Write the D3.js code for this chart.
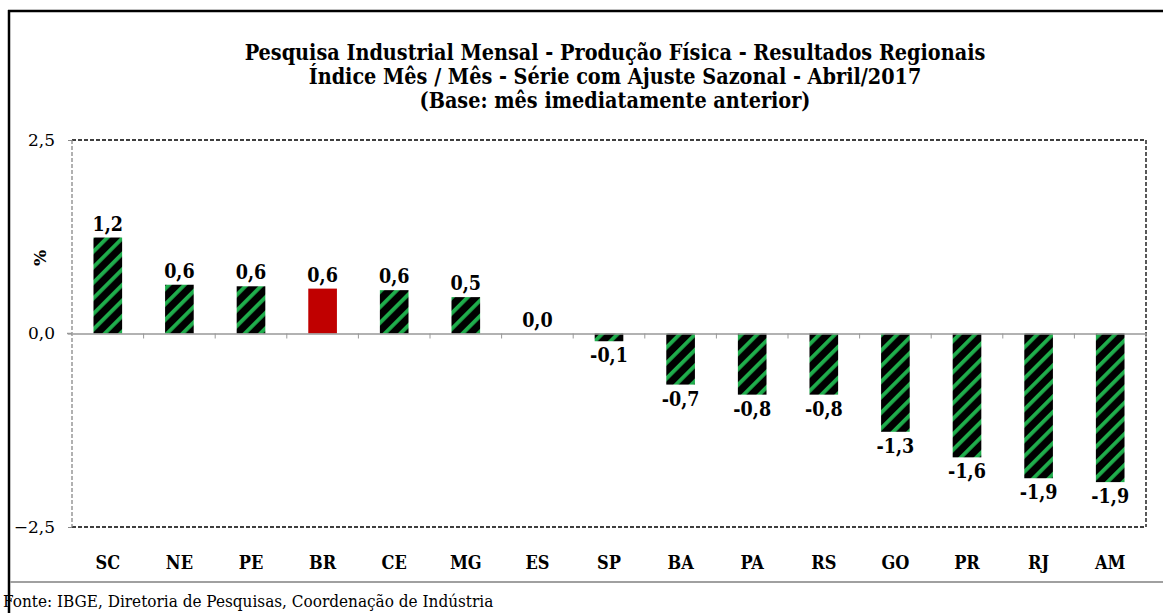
<!DOCTYPE html>
<html><head><meta charset="utf-8">
<script src="https://cdn.jsdelivr.net/npm/d3@7"></script>
<style>body{margin:0;background:#fff}svg{display:block}</style>
</head><body>
<svg id="c" width="1163" height="613"></svg>
<script>
const categories = ["SC","NE","PE","BR","CE","MG","ES","SP","BA","PA","RS","GO","PR","RJ","AM"];
const values = [1.24, 0.63, 0.61, 0.58, 0.56, 0.47, 0.0, -0.1, -0.66, -0.79, -0.79, -1.27, -1.6, -1.87, -1.92];
const labels = ["1,2","0,6","0,6","0,6","0,6","0,5","0,0","-0,1","-0,7","-0,8","-0,8","-1,3","-1,6","-1,9","-1,9"];
const yTicks = [-2.5, 0, 2.5];
const titleLines = ["Pesquisa Industrial Mensal - Produção Física - Resultados Regionais",
  "Índice Mês / Mês - Série com Ajuste Sazonal - Abril/2017",
  "(Base: mês imediatamente anterior)"];
const highlight = "BR";

const svg = d3.select("#c");
const F = "'DejaVu Serif', serif";
const FC = "'DejaVu Serif Condensed', 'DejaVu Serif', serif";
const L = 72, R = 1146, T = 140, B = 527;

const defs = svg.append("defs");
const P = 11;
const pat = defs.append("pattern").attr("id","hatch").attr("patternUnits","userSpaceOnUse")
  .attr("width",P).attr("height",P).attr("patternTransform","rotate(45)");
pat.append("rect").attr("width",P).attr("height",P).attr("fill","#000");
pat.append("rect").attr("x",0).attr("width",3.8).attr("height",P).attr("fill","#1fae4c");

// outer frame
svg.append("line").attr("x1",9).attr("x2",9).attr("y1",10).attr("y2",613).attr("stroke","#000").attr("stroke-width",2.5);
svg.append("line").attr("x1",8).attr("x2",1163).attr("y1",11).attr("y2",11).attr("stroke","#000").attr("stroke-width",2.5);
svg.append("line").attr("x1",10).attr("x2",1163).attr("y1",582).attr("y2",582).attr("stroke","#a0a0a0").attr("stroke-width",2);

// title
svg.append("g").selectAll("text").data(titleLines).join("text")
  .attr("x",615).attr("y",(d,i)=>60+i*24).attr("text-anchor","middle")
  .attr("font-family",FC).attr("font-weight","bold").attr("font-size",21.4).text(d=>d);

const x = d3.scaleBand().domain(categories).range([L,R]).paddingInner(0.6).paddingOuter(0.3);
const xb = d3.scaleBand().domain(categories).range([L,R]);
const y = d3.scaleLinear().domain([-2.5,2.5]).range([B,T]);

// plot border dashed
svg.append("line").attr("x1",L).attr("x2",R).attr("y1",T).attr("y2",T).attr("stroke","#000").attr("stroke-dasharray","4,2").attr("stroke-width",1.3);
svg.append("line").attr("x1",R).attr("x2",R).attr("y1",T).attr("y2",B).attr("stroke","#000").attr("stroke-dasharray","4,2").attr("stroke-width",1.3);
svg.append("line").attr("x1",L).attr("x2",R).attr("y1",B).attr("y2",B).attr("stroke","#000").attr("stroke-dasharray","4,2").attr("stroke-width",1.3);
svg.append("line").attr("x1",L).attr("x2",L).attr("y1",T).attr("y2",B).attr("stroke","#888").attr("stroke-dasharray","4,2").attr("stroke-width",1.3);

// y axis
const ya = d3.axisLeft(y).tickValues(yTicks).tickSize(4).tickFormat(d=>d3.format(".1f")(d).replace(".",","));
const yg = svg.append("g").attr("transform",`translate(${L},0)`).call(ya);
yg.attr("font-size",17).attr("font-family",F);
yg.select(".domain").remove();
yg.selectAll(".tick line").attr("stroke","#888");
yg.selectAll("text").attr("fill","#000").attr("x",-17).attr("dy","0.32em");

svg.append("text").attr("transform",`translate(46,258) rotate(-90)`).attr("text-anchor","middle")
  .attr("font-family",F).attr("font-weight","bold").attr("font-size",17).text("%");

// bars
svg.append("g").selectAll("rect").data(categories).join("rect")
  .attr("x",d=>x(d)).attr("width",x.bandwidth())
  .attr("y",(d,i)=>y(Math.max(0,values[i])))
  .attr("height",(d,i)=>Math.abs(y(values[i])-y(0)))
  .attr("fill",d=>d===highlight?"#c00000":"url(#hatch)");

// zero axis
const xa = d3.axisBottom(xb).tickSize(0).tickFormat("");
svg.append("g").attr("transform",`translate(0,${y(0)})`).call(xa).select(".domain").attr("stroke","#999").attr("stroke-width",1.5);
svg.append("line").attr("x1",L-5).attr("x2",L).attr("y1",y(0)).attr("y2",y(0)).attr("stroke","#999").attr("stroke-width",1.5);
svg.append("g").selectAll("line").data(categories.slice(1).concat(["_end"])).join("line")
  .attr("x1",(d,i)=>L+(i+1)*xb.step()).attr("x2",(d,i)=>L+(i+1)*xb.step())
  .attr("y1",y(0)).attr("y2",y(0)+5).attr("stroke","#999");

// data labels
svg.append("g").selectAll("text").data(categories).join("text")
  .attr("x",d=>x(d)+x.bandwidth()/2)
  .attr("y",(d,i)=>values[i]>=0? y(values[i])-7 : y(values[i])+21)
  .attr("text-anchor","middle").attr("font-family",FC).attr("font-weight","bold").attr("font-size",19.5)
  .text((d,i)=>labels[i]);

// category labels
svg.append("g").selectAll("text").data(categories).join("text")
  .attr("x",d=>xb(d)+xb.bandwidth()/2).attr("y",569).attr("text-anchor","middle")
  .attr("font-family",FC).attr("font-weight","bold").attr("font-size",18)
  .text(d=>d);

svg.append("text").attr("x",3).attr("y",607).attr("font-family",FC).attr("font-size",17)
  .text("Fonte: IBGE, Diretoria de Pesquisas, Coordenação de Indústria");
</script>
</body></html>
